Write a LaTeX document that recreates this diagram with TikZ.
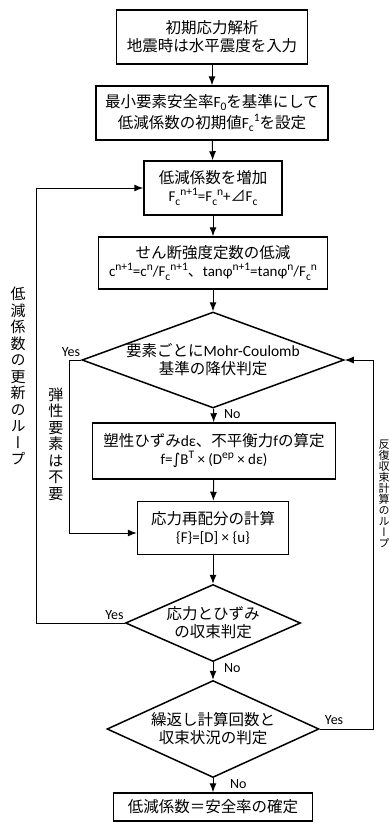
\documentclass[tikz,border=0pt]{standalone}
\usepackage{fontspec}
\setmainfont{Carlito}
\newfontfamily\lat{Carlito}
\newfontfamily\sym{DejaVu Sans}
\newfontfamily\jp{Noto Sans CJK JP}
\newfontfamily\jpv[RawFeature=+vert]{Noto Sans CJK JP}
\usetikzlibrary{arrows.meta,shapes.geometric}
\newcommand{\fml}{\lat\fontsize{15}{18}\selectfont}
\newcommand{\up}[1]{\raisebox{0.42em}{\lat\fontsize{11.5}{12}\selectfont #1}}
\newcommand{\dn}[1]{\raisebox{-0.22em}{\lat\fontsize{11.5}{12}\selectfont #1}}
\newcommand{\Fcs}[1]{F\dn{c}\up{#1}}
\tikzset{
	proc/.style={draw, line width=1.5pt, align=center, inner sep=0pt, font=\jp\fontsize{15.5}{18}\selectfont},
	dec/.style={diamond, draw, line width=1.5pt, align=center, inner sep=0pt, font=\jp\fontsize{15.5}{18}\selectfont},
	yn/.style={inner sep=1pt, font=\lat\fontsize{14}{16}\selectfont},
	vlbl/.style={align=center, inner sep=0pt, font=\jpv\fontsize{15}{16.5}\selectfont},
	flow/.style={line width=1pt, -{Latex[length=9pt,width=7pt]}},
}

\begin{document}
\begin{tikzpicture}[x=1pt,y=-1pt]
		\useasboundingbox (0,0) rectangle (390,823);
		% main column
		\node[proc, minimum width=191, minimum height=54] (init) at (212,37) {初期応力解析\\地震時は水平震度を入力};
		\node[proc, minimum width=232, minimum height=54] (fmin) at (212,113) {最小要素安全率{\lat F\dn{0}}を基準にして\\[2.5pt]低減係数の初期値{\lat\Fcs{1}}を設定};
		\node[proc, minimum width=138, minimum height=54] (incr) at (213,188) {低減係数を増加\\{\fml \Fcs{n+1}=\Fcs{n}+{\jp ⊿}F\dn{c}}};
		\node[proc, minimum width=229, minimum height=52] (redu) at (213,263) {せん断強度定数の低減\\{\fml c\up{n+1}=c\up{n}/\Fcs{n+1}{\jp 、}tanφ\up{n+1}=tanφ\up{n}/\Fcs{n}}};
		\node[dec, aspect=2.73, minimum width=259, minimum height=95] (d1) at (213,360) {要素ごとに{\lat Mohr-Coulomb}\\基準の降伏判定};
		\node[proc, minimum width=243, minimum height=56] (plas) at (214,451) {塑性ひずみ{\lat dε}、不平衡力{\lat f}の算定\\{\fml f={\sym ∫}B\up{T} × (D\up{ep} × dε)}};
		\node[proc, minimum width=151, minimum height=53] (redis) at (213,528) {応力再配分の計算\\{\fml \{F\}=[D] × \{u\}}};
		\node[dec, aspect=2.27, minimum width=175, minimum height=77] (d2) at (213,623) {応力とひずみ\\の収束判定};
		\node[dec, aspect=2.19, minimum width=212, minimum height=97] (d3) at (213,729) {繰返し計算回数と\\収束状況の判定};
		\node[proc, minimum width=199, minimum height=28] (fin) at (213,807) {低減係数＝安全率の確定};
		\draw[flow] (init) -- (fmin);
		\draw[flow] (fmin) -- (incr);
		\draw[flow] (incr) -- (redu);
		\draw[flow] (redu) -- (d1);
		\draw[flow] (d1) -- (plas);
		\draw[flow] (plas) -- (redis);
		\draw[flow] (redis) -- (d2);
		\draw[flow] (d2) -- (d3);
		\draw[flow] (d3) -- (fin);
		% loops
		\coordinate (lp1) at (36,623);
		\coordinate (lp2) at (69,360);
		\coordinate (lp3) at (373,729);
		\draw[flow] (d2.west) -- (lp1) |- (incr.west);
		\draw[flow] (d1.west) -- (lp2) |- ([yshift=-5pt]redis.west);
		\draw[flow] (d3.east) -- (lp3) |- (d1.east);
		% yes / no
		\node[yn, anchor=south east] (y1) at ([yshift=2pt]d1.west) {Yes};
		\node[yn, anchor=north west] (n1) at ([xshift=10pt]d1.south) {No};
		\node[yn, anchor=south east] (y2) at ([yshift=2pt]d2.west) {Yes};
		\node[yn, anchor=north west] (n2) at ([xshift=10pt]d2.south) {No};
		\node[yn, anchor=south west] (y3) at ([xshift=4pt,yshift=3pt]d3.east) {Yes};
		\node[yn, anchor=north west] (n3) at ([xshift=16pt]d3.south) {No};
		% side labels
		\node[vlbl] (looplbl) at (18,376) {低\\減\\係\\数\\の\\更\\新\\の\\ル\\ー\\プ};
		\node[vlbl] (elaslbl) at (56,444) {弾\\性\\要\\素\\は\\不\\要};
		\node[vlbl, font=\jpv\fontsize{11}{11}\selectfont] (iterlbl) at (384,494) {反\\復\\収\\束\\計\\算\\の\\ル\\ー\\プ};
\end{tikzpicture}
\end{document}
